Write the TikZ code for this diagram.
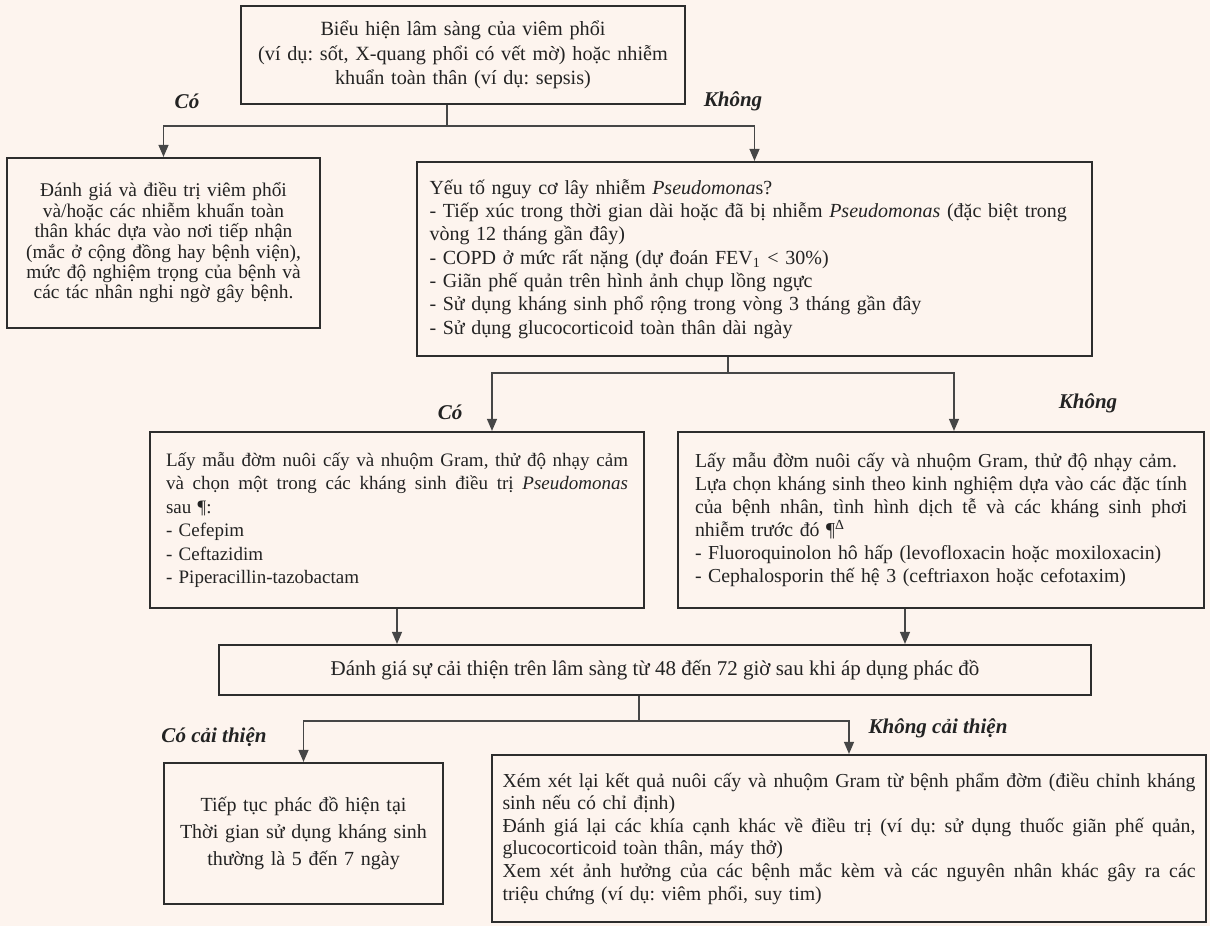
\documentclass[tikz,border=0pt]{standalone}
\usepackage{fontspec}
\setmainfont{Liberation Serif}
\usepackage{tikz}
\usetikzlibrary{arrows.meta, positioning, calc}
\definecolor{PageBg}{RGB}{253,244,238}
\definecolor{BoxLine}{RGB}{45,45,45}
\definecolor{LinkGray}{RGB}{70,70,70}
\definecolor{TextDark}{RGB}{35,35,35}
\newcommand{\fullline}[2]{\leavevmode\hbox to #1{\spaceskip=0.25em plus 1fil minus 0.08em\relax #2}}

\begin{document}
\frenchspacing
\begin{tikzpicture}[x=0.5pt, y=-0.5pt,
	font=\fontsize{10.5}{11.7}\selectfont, text=TextDark,
	box/.style={draw=BoxLine, line width=1.1pt, inner ysep=0pt, align=center},
	lbox/.style={box, align=left},
	fsz/.style 2 args={font=\fontsize{#1}{#2}\selectfont},
	link/.style={draw=LinkGray, line width=0.6pt},
	arr/.style={link, -{Triangle[length=6pt, width=5pt]}},
	tag/.style={font=\fontsize{10.5}{11.7}\selectfont\bfseries\itshape}]
	\fill[PageBg] (0,0) rectangle (1210,926);
	\useasboundingbox (0,0) rectangle (1210,926);
	% biểu hiện ban đầu
	\node[box, fsz={10.1}{12.2}, minimum width=222pt, minimum height=49pt, text width=218pt, inner xsep=2pt]
		(bieuhien) at (463,55)
		{Biểu hiện lâm sàng của viêm phổi\\ (ví dụ: sốt, X-quang phổi có vết mờ) hoặc nhiễm\\
		khuẩn toàn thân (ví dụ: sepsis)};
	\node[tag] (co1) at (187,101) {Có};
	\node[tag] (khong1) at (733,101) {Không};
	% đánh giá và điều trị
	\node[box, fsz={9.7}{10.2}, minimum width=156.5pt, minimum height=85pt, text width=153pt, inner xsep=1.75pt]
		(danhgia) at (163.5,243)
		{Đánh giá và điều trị viêm phổi\\ và/hoặc các nhiễm khuẩn toàn\\ thân khác dựa vào nơi tiếp nhận\\
		(mắc ở cộng đồng hay bệnh viện),\\ mức độ nghiệm trọng của bệnh và\\ các tác nhân nghi ngờ gây bệnh.};
	% yếu tố nguy cơ
	\node[lbox, fsz={10}{11.65}, minimum width=337.5pt, minimum height=97pt, text width=325pt, inner xsep=6.25pt]
		(yeuto) at (754.5,259)
		{Yếu tố nguy cơ lây nhiễm \textit{Pseudomona}s?\\
		- Tiếp xúc trong thời gian dài hoặc đã bị nhiễm \textit{Pseudomonas} (đặc biệt trong\\
		vòng 12 tháng gần đây)\\
		- COPD ở mức rất nặng (dự đoán FEV\textsubscript{1} < 30\%)\\
		- Giãn phế quản trên hình ảnh chụp lồng ngực\\
		- Sử dụng kháng sinh phổ rộng trong vòng 3 tháng gần đây\\
		- Sử dụng glucocorticoid toàn thân dài ngày};
	\node[tag] (co2) at (450,412) {Có};
	\node[tag] (khong2) at (1088,403) {Không};
	% có nguy cơ
	\node[lbox, fsz={9.5}{11.75}, minimum width=247pt, minimum height=88pt, text width=231pt, inner xsep=8pt]
		(coL) at (397,520)
		{\fullline{231pt}{Lấy mẫu đờm nuôi cấy và nhuộm Gram, thử độ nhạy cảm}\\
		\fullline{231pt}{và chọn một trong các kháng sinh điều trị \textit{Pseudomonas}}\\
		sau ¶:\\ - Cefepim\\ - Ceftazidim\\ - Piperacillin-tazobactam};
	% không có nguy cơ
	\node[lbox, fsz={9.9}{11.5}, minimum width=263pt, minimum height=88pt, text width=246pt, inner xsep=8.5pt]
		(khongL) at (941,520)
		{Lấy mẫu đờm nuôi cấy và nhuộm Gram, thử độ nhạy cảm.\\
		\fullline{246pt}{Lựa chọn kháng sinh theo kinh nghiệm dựa vào các đặc tính}\\
		\fullline{246pt}{của bệnh nhân, tình hình dịch tễ và các kháng sinh phơi}\\
		nhiễm trước đó ¶\textsuperscript{Δ}\\
		- Fluoroquinolon hô hấp (levofloxacin hoặc moxiloxacin)\\
		- Cephalosporin thế hệ 3 (ceftriaxon hoặc cefotaxim)};
	% đánh giá sau 48-72 giờ
	\node[box, minimum width=436pt, minimum height=25pt] (danhgiaCT) at (655,670)
		{Đánh giá sự cải thiện trên lâm sàng từ 48 đến 72 giờ sau khi áp dụng phác đồ};
	\node[tag] (cocaithien) at (214,737) {Có cải thiện};
	\node[tag] (khongcaithien) at (938,728) {Không cải thiện};
	% kết cục
	\node[box, fsz={10}{13.5}, minimum width=139.5pt, minimum height=70.5pt, text width=136pt, inner xsep=1.75pt]
		(tieptuc) at (303.5,833.5)
		{Tiếp tục phác đồ hiện tại\\ Thời gian sử dụng kháng sinh\\ thường là 5 đến 7 ngày};
	\node[lbox, fsz={9.9}{11.3}, minimum width=357pt, minimum height=83.5pt, text width=346.5pt, inner xsep=5.25pt]
		(xemxet) at (849,838.5)
		{\fullline{346.5pt}{Xém xét lại kết quả nuôi cấy và nhuộm Gram từ bệnh phẩm đờm (điều chỉnh kháng}\\
		sinh nếu có chỉ định)\\
		\fullline{346.5pt}{Đánh giá lại các khía cạnh khác về điều trị (ví dụ: sử dụng thuốc giãn phế quản,}\\
		glucocorticoid toàn thân, máy thở)\\
		\fullline{346.5pt}{Xem xét ảnh hưởng của các bệnh mắc kèm và các nguyên nhân khác gây ra các}\\
		triệu chứng (ví dụ: viêm phổi, suy tim)};
	% đường nối
	\coordinate (r1) at (447,126);
	\draw[link] (bieuhien.south -| r1) -- (r1);
	\draw[arr] (r1) -| (danhgia.north);
	\draw[arr] (r1) -| (yeuto.north);
	\coordinate (r2) at (728,373);
	\draw[link] (yeuto.south -| r2) -- (r2);
	\draw[arr] (r2) -| ($(coL.north)+(95,0)$);
	\draw[arr] (r2) -| ($(khongL.north)+(13,0)$);
	\draw[arr] (coL.south) -- (coL.south |- danhgiaCT.north);
	\coordinate (r3) at ($(khongL.south)+(-36,0)$);
	\draw[arr] (r3) -- (r3 |- danhgiaCT.north);
	\coordinate (r4) at (639,721);
	\draw[link] (danhgiaCT.south -| r4) -- (r4);
	\draw[arr] (r4) -| (tieptuc.north);
	\draw[arr] (r4) -| (xemxet.north);
\end{tikzpicture}
\end{document}
